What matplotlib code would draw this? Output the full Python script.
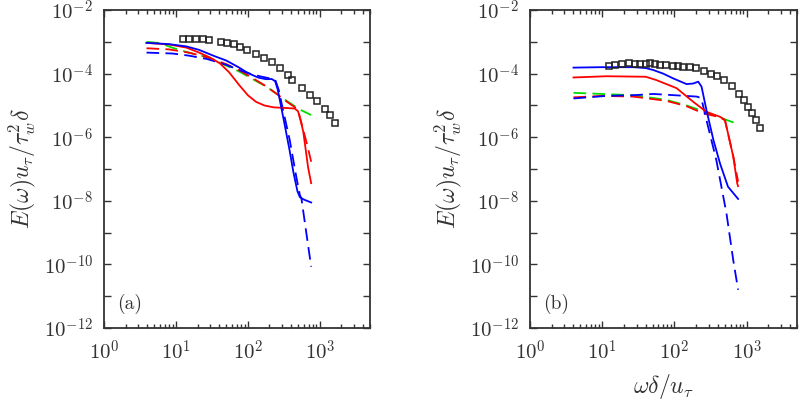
import matplotlib
matplotlib.use("Agg")
import matplotlib.pyplot as plt
import numpy as np

plt.rcParams['font.family'] = 'serif'
plt.rcParams['font.serif'] = ['cmr10', 'DejaVu Serif']
plt.rcParams['mathtext.fontset'] = 'cm'
plt.rcParams['axes.formatter.use_mathtext'] = True

# ---- panel (a) ----
a_sq_x = [12.4, 15.1, 19, 23.5, 29, 41.8, 51.6, 64, 77.5, 98, 129, 168, 217, 278, 359, 417, 562, 741, 927, 1170, 1380, 1620]
a_sq_y = [1.23e-3, 1.23e-3, 1.25e-3, 1.23e-3, 1.18e-3, 1.0e-3, 9.1e-4, 8.3e-4, 6.9e-4, 5.5e-4, 4.3e-4, 3.2e-4, 2.3e-4, 1.47e-4, 8.9e-5, 6.3e-5, 3.55e-5, 2.1e-5, 1.4e-5, 7.6e-6, 4.9e-6, 2.75e-6]

a_blue_x = [3.9, 8, 14, 21, 35, 50, 74, 100, 140, 180, 215, 240, 260, 280, 320, 380, 430, 490, 530, 600, 760]
a_blue_y = [9.3e-4, 8.5e-4, 7.2e-4, 5.6e-4, 3.5e-4, 2.6e-4, 1.6e-4, 1.05e-4, 7.5e-5, 6.7e-5, 6.8e-5, 5.8e-5, 3.2e-5, 1.4e-5, 3.0e-6, 4e-7, 8e-8, 2e-8, 1.3e-8, 1.1e-8, 8.9e-9]

a_red_x = [3.9, 8, 14, 21, 30, 41, 55, 77, 100, 130, 170, 230, 350, 450, 500, 540, 590, 690, 760]
a_red_y = [9.3e-4, 8.3e-4, 6.6e-4, 4.6e-4, 3.2e-4, 2.1e-4, 1.1e-4, 4.2e-5, 2.1e-5, 1.3e-5, 1.0e-5, 8.7e-6, 8.3e-6, 8.0e-6, 6.5e-6, 3.5e-6, 1.5e-6, 1.1e-7, 3.6e-8]

a_red_d_x = [3.9, 8, 15, 27, 50, 80, 120, 180, 260, 350, 430, 470, 520, 590, 680, 760]
a_red_d_y = [6.3e-4, 5.8e-4, 4.6e-4, 3.3e-4, 2.0e-4, 1.2e-4, 7e-5, 4.0e-5, 2.2e-5, 1.3e-5, 9.5e-6, 8.1e-6, 5e-6, 1.7e-6, 5e-7, 1.7e-7]

a_green_x = [3.9, 6, 9, 14, 21, 27, 50, 77, 120, 182, 310, 525, 760]
a_green_y = [1.0e-3, 9.2e-4, 6.5e-4, 4.8e-4, 3.8e-4, 3.3e-4, 1.8e-4, 1.15e-4, 6.5e-5, 3.9e-5, 1.66e-5, 7.5e-6, 5.0e-6]

a_blue_d_x = [3.9, 9, 15, 27, 50, 80, 107, 150, 203, 240, 270, 294, 383, 470, 530, 556, 650, 760]
a_blue_d_y = [4.6e-4, 4.3e-4, 3.7e-4, 2.9e-4, 1.9e-4, 1.25e-4, 1.0e-4, 8.2e-5, 7.1e-5, 6.5e-5, 3e-5, 1.2e-5, 8.1e-7, 6e-8, 1.5e-8, 1.2e-8, 1e-9, 8.5e-11]

# ---- panel (b) ----
b_sq_x = [12.5, 15.0, 18.5, 23.7, 28.3, 33, 40, 45.7, 53.6, 64, 77.5, 94, 113, 132, 163, 198, 256, 325, 389, 480, 617, 785, 910, 1050, 1190, 1340, 1520]
b_sq_y = [1.78e-4, 1.86e-4, 2.0e-4, 2.14e-4, 2.0e-4, 2.0e-4, 2.05e-4, 2.1e-4, 1.97e-4, 1.9e-4, 1.86e-4, 1.78e-4, 1.7e-4, 1.65e-4, 1.6e-4, 1.5e-4, 1.24e-4, 1.0e-4, 8.6e-5, 6.3e-5, 4.1e-5, 2.3e-5, 1.5e-5, 9.1e-6, 5.6e-6, 3.6e-6, 2.0e-6]

b_blue_x = [4, 10, 27, 40, 51, 70, 96, 147, 182, 213, 237, 277, 346, 427, 550, 760]
b_blue_y = [1.55e-4, 1.6e-4, 1.6e-4, 1.5e-4, 1.3e-4, 1.0e-4, 7.1e-5, 4.7e-5, 4.9e-5, 5.6e-5, 3.9e-5, 7.2e-6, 8.2e-7, 1.5e-7, 2.8e-8, 1.15e-8]

b_red_x = [4, 11.5, 40, 56, 107, 182, 277, 427, 500, 650, 740, 760]
b_red_y = [7.6e-5, 8.3e-5, 8.0e-5, 6.3e-5, 3.5e-5, 1.3e-5, 6.3e-6, 4.4e-6, 3.5e-6, 2.5e-7, 3.5e-8, 2.9e-8]

b_red_d_x = [4, 10, 27, 77, 147, 224, 290, 427, 500, 650, 760]
b_red_d_y = [1.8e-5, 2.0e-5, 1.9e-5, 1.4e-5, 9.5e-6, 6.3e-6, 5.2e-6, 4.3e-6, 3.4e-6, 2.6e-7, 4.0e-8]

b_green_x = [4, 27, 77, 147, 224, 346, 525, 760]
b_green_y = [2.5e-5, 2.1e-5, 1.5e-5, 1.0e-5, 7.2e-6, 5e-6, 3.5e-6, 2.6e-6]

b_blue_d_x = [4, 11.5, 27, 51, 100, 204, 235, 277, 380, 525, 650, 760]
b_blue_d_y = [1.66e-5, 2.0e-5, 2.1e-5, 2.3e-5, 2.1e-5, 1.9e-5, 1.7e-5, 3.5e-6, 1.9e-7, 4e-9, 1.4e-10, 1.6e-11]

yticks = [10.0**k for k in range(-12, -1)]
ylabs = [r'$10^{%d}$' % k if k % 2 == 0 else '' for k in range(-12, -1)]
xticks = [1, 10, 100, 1000]
xlabs = [r'$10^{0}$', r'$10^{1}$', r'$10^{2}$', r'$10^{3}$']

fig = plt.figure(figsize=(8, 4.03), dpi=100)
ax1 = fig.add_axes([0.13, 0.186, 0.3325, 0.789])
ax2 = fig.add_axes([0.6625, 0.186, 0.334, 0.789])

lw = 1.3
def draw(ax, sq, lines, tag):
    for x, y, c, ls in lines:
        ax.plot(x, y, color=c, ls=ls, lw=lw, dashes=(7, 3.5) if ls == '--' else (None, None))
    ax.plot(sq[0], sq[1], 's', mfc='none', mec='#222222', ms=5, mew=1.1, ls='none')
    ax.set_xscale('log')
    ax.set_yscale('log')
    ax.set_xlim(1, 5000)
    ax.set_ylim(1e-12, 1e-2)
    ax.set_yticks(yticks)
    ax.set_yticklabels(ylabs)
    ax.minorticks_off()
    ax.set_xticks(xticks)
    ax.set_xticklabels(xlabs)
    ax.xaxis.set_minor_locator(matplotlib.ticker.LogLocator(base=10, subs=np.arange(2, 10), numticks=20))
    ax.xaxis.set_minor_formatter(matplotlib.ticker.NullFormatter())
    ax.tick_params(which='both', direction='in', top=True, right=True, labelsize=15, colors='#333333', pad=8)
    ax.tick_params(which='major', length=5, width=1)
    ax.tick_params(which='minor', length=3, width=1)
    for s in ax.spines.values():
        s.set_linewidth(1.3)
        s.set_color('#333333')
    ax.set_ylabel(r'$E(\omega)u_\tau/\tau_w^2\delta$', fontsize=17, color='#333333', labelpad=4)
    ax.text(0.05, 0.075, tag, transform=ax.transAxes, fontsize=14, color='#333333', va='center')

draw(ax1, (a_sq_x, a_sq_y), [
    (a_green_x, a_green_y, '#00dd00', '--'),
    (a_red_d_x, a_red_d_y, 'red', '--'),
    (a_blue_d_x, a_blue_d_y, 'blue', '--'),
    (a_red_x, a_red_y, 'red', '-'),
    (a_blue_x, a_blue_y, 'blue', '-'),
], '(a)')

draw(ax2, (b_sq_x, b_sq_y), [
    (b_green_x, b_green_y, '#00dd00', '--'),
    (b_red_d_x, b_red_d_y, 'red', '--'),
    (b_blue_d_x, b_blue_d_y, 'blue', '--'),
    (b_red_x, b_red_y, 'red', '-'),
    (b_blue_x, b_blue_y, 'blue', '-'),
], '(b)')
ax2.set_xlabel(r'$\omega\delta/u_\tau$', fontsize=17, color='#333333', labelpad=6)

fig.savefig('out.png', dpi=100)
